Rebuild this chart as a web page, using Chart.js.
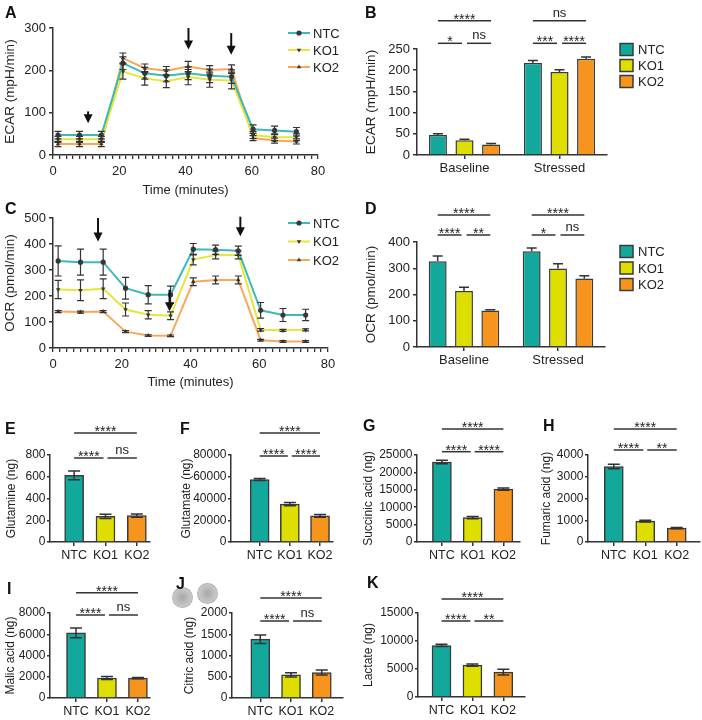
<!DOCTYPE html>
<html>
<head>
<meta charset="utf-8">
<script src="https://cdn.jsdelivr.net/npm/chart.js@4.4.0/dist/chart.umd.min.js"></script>
<style>
  body { margin: 0; background: #fff; }
  #fig { position: relative; width: 702px; height: 720px; overflow: hidden; }
  #fig canvas { position: absolute; }
  .lbl { position: absolute; font: bold 16px "Liberation Sans", Arial, sans-serif; line-height: 16px; color: #111; z-index: 2; }
  .blob { position: absolute; width: 19px; height: 19px; border-radius: 50%; border: 1px dotted #9a9a9a;
          background: radial-gradient(circle, #a8a8a8 0, #c2c2c2 55%, #d6d6d6 100%); }
</style>
</head>
<body>
<div id="fig">
  <div class="lbl" style="left:5px;top:5px">A</div>
  <div class="lbl" style="left:365px;top:5px">B</div>
  <div class="lbl" style="left:5px;top:201px">C</div>
  <div class="lbl" style="left:365px;top:201px">D</div>
  <div class="lbl" style="left:5px;top:421px">E</div>
  <div class="lbl" style="left:180px;top:421px">F</div>
  <div class="lbl" style="left:363px;top:418px">G</div>
  <div class="lbl" style="left:543px;top:418px">H</div>
  <div class="lbl" style="left:7px;top:581px">I</div>
  <div class="lbl" style="left:176px;top:576px">J</div>
  <div class="lbl" style="left:367px;top:575px">K</div>
  <div class="blob" style="left:172px;top:587px"></div>
  <div class="blob" style="left:197px;top:583px"></div>
</div>
<script>
// ---- data ----
const timeMin = [1.5, 8, 14.6, 21.1, 27.7, 34.2, 40.8, 47.3, 53.9, 60.4, 66.9, 73.5];
const groups = ['NTC', 'KO1', 'KO2'];
const phases = ['Baseline', 'Stressed'];

// A: ECAR time course
const ecarNTC = [47, 47, 47, 217, 193, 187, 193, 187, 185, 61, 58, 55];
const ecarKO1 = [37, 37, 37, 197, 181, 174, 184, 178, 176, 47, 42, 42];
const ecarKO2 = [26, 26, 26, 229, 205, 199, 209, 201, 203, 40, 34, 32];
const ecarErrNTC = [9, 9, 9, 15, 14, 14, 15, 16, 16, 10, 10, 10];
const ecarErrKO1 = [7, 7, 7, 18, 16, 15, 18, 18, 20, 8, 8, 8];
const ecarErrKO2 = [6, 6, 6, 12, 10, 10, 12, 10, 10, 6, 6, 6];

// C: OCR time course
const ocrNTC = [335, 330, 330, 230, 205, 205, 380, 378, 374, 145, 127, 127];
const ocrKO1 = [225, 222, 228, 148, 128, 124, 340, 358, 358, 70, 68, 70];
const ocrKO2 = [140, 138, 140, 63, 48, 47, 255, 262, 262, 30, 25, 25];
const ocrErrNTC = [58, 50, 50, 42, 35, 33, 22, 18, 18, 30, 25, 22];
const ocrErrKO1 = [35, 40, 38, 25, 16, 15, 20, 15, 15, 5, 4, 4];
const ocrErrKO2 = [4, 4, 4, 4, 3, 3, 15, 15, 15, 3, 3, 3];

// B / D: baseline vs stressed
const ecarBarNTC = [47, 217];
const ecarBarKO1 = [35, 196];
const ecarBarKO2 = [25, 227];
const ecarBarErrNTC = [3, 6];
const ecarBarErrKO1 = [2, 5];
const ecarBarErrKO2 = [2, 4];
const ocrBarNTC = [327, 365];
const ocrBarKO1 = [213, 299];
const ocrBarKO2 = [139, 261];
const ocrBarErrNTC = [20, 12];
const ocrBarErrKO1 = [15, 18];
const ocrBarErrKO2 = [3, 10];

// E-K: metabolites (NTC, KO1, KO2)
const glutamine = [612, 235, 242];
const glutamineErr = [40, 20, 15];
const glutamate = [57500, 34800, 24000];
const glutamateErr = [1000, 1500, 1200];
const succinic = [23000, 7000, 15200];
const succinicErr = [500, 300, 300];
const fumaric = [3470, 960, 640];
const fumaricErr = [100, 40, 30];
const malic = [6130, 1880, 1870];
const malicErr = [450, 150, 60];
const citric = [1385, 545, 600];
const citricErr = [100, 50, 60];
const lactate = [9200, 5700, 4450];
const lactateErr = [200, 200, 500];

// ---- styling ----
const FONT = '"Liberation Sans", Arial, sans-serif';
const AX = '#333';
const barColors = ['#12a89c', '#dede00', '#f7941d'];
const lineColors = ['#3dbab6', '#e6e63a', '#f9a85a'];

Chart.defaults.font.family = FONT;
Chart.defaults.font.size = 13;
Chart.defaults.color = '#222';
Chart.defaults.animation = false;
Chart.defaults.events = [];
Chart.defaults.plugins.legend.display = false;
Chart.defaults.plugins.tooltip.enabled = false;

// error bars (whiskers with caps)
const errorBars = {
  id: 'errorBars',
  afterDatasetsDraw(chart, args, o) {
    const ctx = chart.ctx, ys = chart.scales.y;
    ctx.save();
    ctx.strokeStyle = '#333';
    ctx.lineWidth = o.width || 1.3;
    chart.data.datasets.forEach((ds, di) => {
      if (!ds.errors) return;
      chart.getDatasetMeta(di).data.forEach((el, i) => {
        const d = ds.data[i];
        const v = typeof d === 'object' ? d.y : d;
        const e = ds.errors[i];
        const top = ys.getPixelForValue(v + e);
        const bot = o.upOnly ? ys.getPixelForValue(v) : ys.getPixelForValue(v - e);
        const c = o.cap;
        ctx.beginPath();
        ctx.moveTo(el.x, top); ctx.lineTo(el.x, bot);
        ctx.moveTo(el.x - c, top); ctx.lineTo(el.x + c, top);
        if (!o.upOnly) { ctx.moveTo(el.x - c, bot); ctx.lineTo(el.x + c, bot); }
        ctx.stroke();
      });
    });
    ctx.restore();
  }
};

// injection arrows (data units)
const arrows = {
  id: 'arrows',
  afterDraw(chart, args, o) {
    if (!o.items) return;
    const ctx = chart.ctx, xs = chart.scales.x, ys = chart.scales.y;
    ctx.save();
    ctx.strokeStyle = '#111'; ctx.fillStyle = '#111'; ctx.lineWidth = 2;
    o.items.forEach(([x, y0, y1]) => {
      const px = xs.getPixelForValue(x), a = ys.getPixelForValue(y0), b = ys.getPixelForValue(y1);
      ctx.beginPath(); ctx.moveTo(px, a); ctx.lineTo(px, b - 6); ctx.stroke();
      ctx.beginPath(); ctx.moveTo(px - 4.5, b - 9); ctx.lineTo(px + 4.5, b - 9); ctx.lineTo(px, b); ctx.closePath(); ctx.fill();
    });
    ctx.restore();
  }
};

// significance brackets
const brackets = {
  id: 'brackets',
  afterDraw(chart, args, o) {
    if (!o.items) return;
    const ctx = chart.ctx, top = chart.chartArea.top;
    ctx.save();
    ctx.strokeStyle = '#333'; ctx.lineWidth = 1.5; ctx.fillStyle = '#222'; ctx.textAlign = 'center';
    o.items.forEach(b => {
      const p = chart.getDatasetMeta(b.a[0]).data[b.a[1]].x + (b.gl || 0);
      const q = chart.getDatasetMeta(b.b[0]).data[b.b[1]].x - (b.gr || 0);
      const y = top + b.dy;
      ctx.beginPath(); ctx.moveTo(p, y); ctx.lineTo(q, y); ctx.stroke();
      if (b.t === 'ns') { ctx.font = '13px ' + FONT; ctx.fillText('ns', (p + q) / 2, y - 4); }
      else { ctx.font = '14px ' + FONT; ctx.fillText(b.t, (p + q) / 2, y + 3); }
    });
    ctx.restore();
  }
};

// legend drawn at page coords
const keyBox = {
  id: 'keyBox',
  afterDraw(chart, args, o) {
    if (!o.x) return;
    const ctx = chart.ctx, ox = +chart.canvas.dataset.ox, oy = +chart.canvas.dataset.oy;
    ctx.save();
    ctx.font = '13px ' + FONT; ctx.textBaseline = 'middle';
    chart.data.datasets.forEach((ds, i) => {
      const x = o.x - ox, y = o.y + i * o.dy - oy;
      if (o.kind === 'box') {
        ctx.fillStyle = ds.backgroundColor; ctx.fillRect(x, y - 6, 13, 12);
        ctx.strokeStyle = '#3a3a3a'; ctx.lineWidth = 1.5; ctx.strokeRect(x, y - 6, 13, 12);
        ctx.fillStyle = '#222'; ctx.fillText(ds.label, x + 18, y + 1);
      } else {
        ctx.strokeStyle = ds.borderColor; ctx.lineWidth = 2;
        ctx.beginPath(); ctx.moveTo(x, y); ctx.lineTo(x + 22, y); ctx.stroke();
        ctx.fillStyle = '#3a3a3a';
        Chart.helpers.drawPoint(ctx, { pointStyle: ds.pointStyle, rotation: ds.pointRotation || 0, radius: 2.6, borderWidth: 0 }, x + 11, y);
        ctx.fillStyle = '#222'; ctx.fillText(ds.label, x + 25, y + 1);
      }
    });
    ctx.restore();
  }
};

Chart.register(errorBars, arrows, brackets, keyBox);

const fig = document.getElementById('fig');

// area = chart area in page px [L, T, R, B]; m = [left, top, right, bottom] margins
function makeChart(area, m, config) {
  const [L, T, R, B] = area, [ml, mt, mr, mb] = m;
  const c = document.createElement('canvas');
  const left = L - ml, top = T - mt, w = R - L + ml + mr, h = B - T + mt + mb;
  c.width = w; c.height = h;
  c.style.cssText = `left:${left}px;top:${top}px;width:${w}px;height:${h}px`;
  c.dataset.ox = left; c.dataset.oy = top;
  fig.appendChild(c);
  config.options.responsive = false;
  config.options.devicePixelRatio = 1;
  config.options.layout = { padding: { left: 0, top: mt, right: mr, bottom: 0 } };
  config.options.scales.x.afterFit = s => { s.height = mb; };
  config.options.scales.y.afterFit = s => { s.width = ml; };
  return new Chart(c, config);
}

function yAxis(max, step, title, tsize, fsize, tpad, small) {
  return {
    min: 0, max: max,
    ticks: { stepSize: step, autoSkip: false, callback: v => String(v), padding: small ? 1.5 : 3, font: { size: fsize } },
    grid: { drawOnChartArea: false, tickLength: small ? 3 : 4, color: AX, lineWidth: 1.5 },
    border: { color: AX, width: 1.5 },
    title: { display: true, text: title, font: { size: tsize }, padding: { top: tpad, bottom: 0 } }
  };
}

function timeAxis(pad, tpad) {
  return {
    type: 'linear', min: 0, max: 80,
    afterBuildTicks: s => { const t = []; for (let v = 0; v <= 80; v += 2) t.push({ value: v }); s.ticks = t; },
    ticks: { autoSkip: false, maxRotation: 0, padding: pad, callback: v => (v % 20 === 0 ? String(v) : '') },
    grid: { drawOnChartArea: false, tickLength: 4, color: AX, lineWidth: 1.3 },
    border: { color: AX, width: 1.5 },
    title: { display: true, text: 'Time (minutes)', font: { size: 13 }, padding: { top: 0, bottom: tpad } }
  };
}

function lineSet(label, ys, errs, i, style, rot) {
  return {
    label: label, data: timeMin.map((t, k) => ({ x: t, y: ys[k] })), errors: errs,
    borderColor: lineColors[i], borderWidth: 2, tension: 0,
    pointStyle: style, pointRotation: rot, pointRadius: 2.6,
    pointBackgroundColor: '#3a3a3a', pointBorderColor: '#3a3a3a', pointBorderWidth: 0
  };
}

function lineChart(area, m, ys, errs, yMax, title, arrowItems, key, tpad) {
  makeChart(area, m, {
    type: 'line',
    data: { datasets: [
      lineSet('NTC', ys[0], errs[0], 0, 'circle', 0),
      lineSet('KO1', ys[1], errs[1], 1, 'triangle', 180),
      lineSet('KO2', ys[2], errs[2], 2, 'triangle', 0)
    ] },
    options: {
      scales: { x: timeAxis(4.5, tpad), y: yAxis(yMax, 100, title, 13.5, 13, 2) },
      plugins: { errorBars: { cap: 3.5, width: 1.2 }, arrows: { items: arrowItems }, keyBox: key }
    }
  });
}

function groupChart(area, m, vals, errs, yMax, step, title, items, key) {
  makeChart(area, m, {
    type: 'bar',
    data: { labels: phases, datasets: groups.map((g, i) => ({
      label: g, data: vals[i], errors: errs[i], backgroundColor: barColors[i],
      borderColor: '#3a3a3a', borderWidth: 1.5, categoryPercentage: 0.84, barPercentage: 0.68
    })) },
    options: {
      scales: {
        x: { ticks: { padding: 1.5, font: { size: 13 } }, grid: { drawOnChartArea: false, offset: false, tickLength: 4, color: AX, lineWidth: 1.5 },
             border: { color: AX, width: 1.5 } },
        y: yAxis(yMax, step, title, 13.5, 13, 3.6)
      },
      plugins: { errorBars: { cap: 5, upOnly: true, width: 1.5 }, brackets: { items: items }, keyBox: key }
    }
  });
}

function simpleBrackets(dyTop, dyLow, t1, t2, t3) {
  return [
    { a: [0, 0], b: [0, 2], dy: dyTop, t: t1 },
    { a: [0, 0], b: [0, 1], dy: dyLow, t: t2, gr: 2 },
    { a: [0, 1], b: [0, 2], dy: dyLow, t: t3, gl: 2 }
  ];
}

function metaChart(area, m, vals, errs, yMax, step, title, xr, labs, tpad) {
  makeChart(area, m, {
    type: 'bar',
    data: { datasets: [{
      label: title, data: vals.map((v, i) => ({ x: i, y: v })), errors: errs,
      backgroundColor: barColors, borderColor: '#3a3a3a', borderWidth: 1.5, barThickness: 19
    }] },
    options: {
      scales: {
        x: { type: 'linear', min: xr[0], max: xr[1], offset: false,
             afterBuildTicks: s => { s.ticks = groups.map((g, i) => ({ value: i })); },
             ticks: { autoSkip: false, maxRotation: 0, padding: 2, font: { size: 12.5 }, callback: v => groups[v] },
             grid: { drawOnChartArea: false, offset: false, tickLength: 4, color: AX, lineWidth: 1.5 },
             border: { color: AX, width: 1.5 } },
        y: yAxis(yMax, step, title, 12, 12, tpad, true)
      },
      plugins: { errorBars: { cap: 6, width: 1.5 }, brackets: { items: simpleBrackets(labs[0], labs[1], labs[2], labs[3], labs[4]) } }
    }
  });
}

// A
lineChart([53, 28, 318, 155], [53, 28, 30, 45], [ecarNTC, ecarKO1, ecarKO2], [ecarErrNTC, ecarErrKO1, ecarErrKO2],
  300, 'ECAR (mpH/min)', [[10.6, 103, 75], [40.9, 300, 249], [53.8, 288, 237]],
  { kind: 'line', x: 288, y: 33, dy: 17 }, 2.2);

// C
lineChart([53, 218, 328, 348], [53, 18, 20, 45], [ocrNTC, ocrKO1, ocrKO2], [ocrErrNTC, ocrErrKO1, ocrErrKO2],
  500, 'OCR (pmol/min)', [[13.1, 500, 410], [33.9, 224, 141], [54.5, 505, 430]],
  { kind: 'line', x: 288, y: 223, dy: 18.5 }, 2.5);

// B
groupChart([417, 49, 607, 155], [57, 49, 95, 25], [ecarBarNTC, ecarBarKO1, ecarBarKO2], [ecarBarErrNTC, ecarBarErrKO1, ecarBarErrKO2],
  250, 50, 'ECAR (mpH/min)', [
    { a: [0, 0], b: [2, 0], dy: -28.3, t: '****' },
    { a: [0, 0], b: [1, 0], dy: -5.7, t: '*', gr: 2.5 },
    { a: [1, 0], b: [2, 0], dy: -5.7, t: 'ns', gl: 2.5 },
    { a: [0, 1], b: [2, 1], dy: -28.3, t: 'ns' },
    { a: [0, 1], b: [1, 1], dy: -5.7, t: '***', gr: 2.5 },
    { a: [1, 1], b: [2, 1], dy: -5.7, t: '****', gl: 2.5 }
  ], { kind: 'box', x: 620, y: 49.5, dy: 16 });

// D
groupChart([417, 242, 605, 347], [57, 42, 97, 25], [ocrBarNTC, ocrBarKO1, ocrBarKO2], [ocrBarErrNTC, ocrBarErrKO1, ocrBarErrKO2],
  400, 100, 'OCR (pmol/min)', [
    { a: [0, 0], b: [2, 0], dy: -27, t: '****' },
    { a: [0, 0], b: [1, 0], dy: -7, t: '****', gr: 2.5 },
    { a: [1, 0], b: [2, 0], dy: -7, t: '**', gl: 2.5 },
    { a: [0, 1], b: [2, 1], dy: -27, t: '****' },
    { a: [0, 1], b: [1, 1], dy: -7, t: '*', gr: 2.5 },
    { a: [1, 1], b: [2, 1], dy: -7, t: 'ns', gl: 2.5 }
  ], { kind: 'box', x: 620, y: 251.5, dy: 16.5 });

// E-K
metaChart([50, 455, 150, 542], [50, 50, 22, 22], glutamine, glutamineErr, 800, 200, 'Glutamine (ng)',
  [-0.77, 2.42], [-22, 3, '****', '****', 'ns'], 4.5);
metaChart([231, 455, 333, 542], [56, 50, 20, 22], glutamate, glutamateErr, 80000, 20000, 'Glutamate (ng)',
  [-0.95, 2.43], [-22, 1, '****', '****', '****'], 4.5);
metaChart([417, 455, 520, 542], [61, 50, 15, 22], succinic, succinicErr, 25000, 5000, 'Succinic acid (ng)',
  [-0.81, 2.54], [-26, -3.3, '****', '****', '****'], 5);
metaChart([588, 455, 700, 542], [53, 50, 2, 22], fumaric, fumaricErr, 4000, 1000, 'Fumaric acid (ng)',
  [-0.82, 2.74], [-26, -5, '****', '****', '**'], 4.5);
metaChart([50, 613, 150, 698], [50, 48, 22, 22], malic, malicErr, 8000, 2000, 'Malic acid (ng)',
  [-0.84, 2.39], [-20.3, 2, '****', '****', 'ns'], 3.5);
metaChart([232, 613, 343, 698], [54, 48, 15, 22], citric, citricErr, 2000, 500, 'Citric acid (ng)',
  [-0.92, 2.69], [-15, 8, '****', '****', 'ns'], 4.8);
metaChart([418, 613, 525, 697], [62, 48, 20, 23], lactate, lactateErr, 15000, 5000, 'Lactate (ng)',
  [-0.76, 2.70], [-14, 8, '****', '****', '**'], 5);
</script>
</body>
</html>
